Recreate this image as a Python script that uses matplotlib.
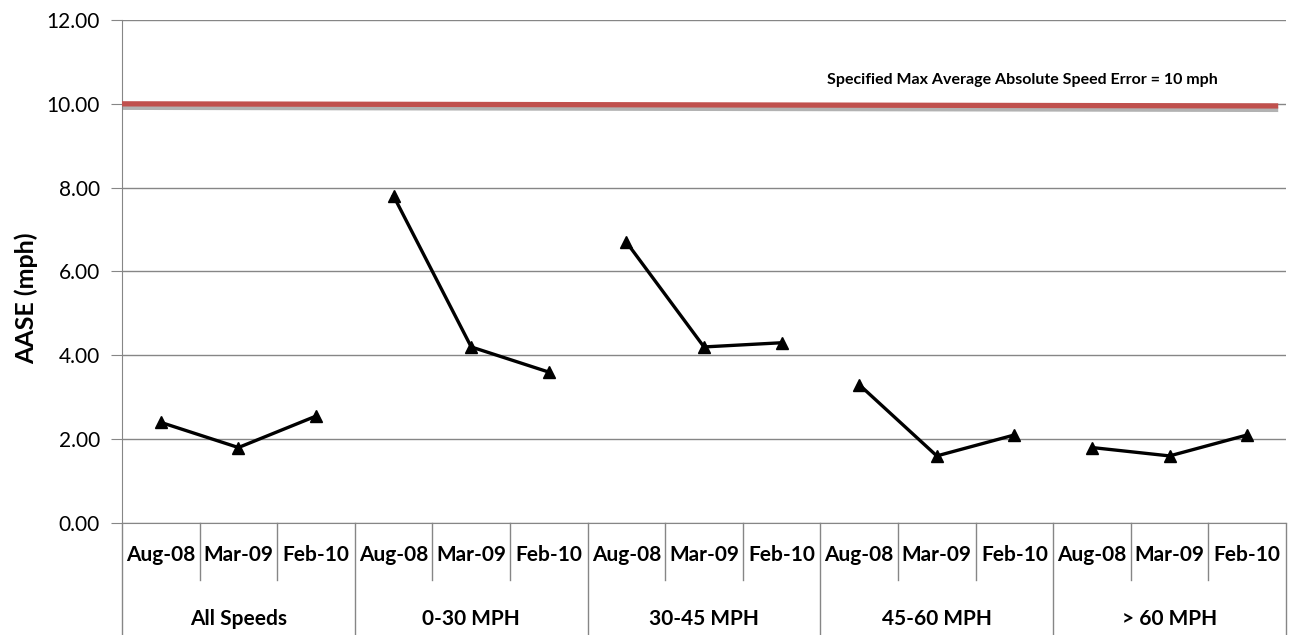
import numpy as np
import matplotlib
matplotlib.use("Agg")
import matplotlib.pyplot as plt
import matplotlib.patheffects as pe

plt.rcParams['font.family'] = ['Lato', 'DejaVu Sans']

# speed bins and survey months
groups = ["All Speeds", "0-30 MPH", "30-45 MPH", "45-60 MPH", "> 60 MPH"]
months = ["Aug-08", "Mar-09", "Feb-10"]

# average absolute speed error per bin (mph), one list per bin
all_speeds = [2.40, 1.80, 2.55]
mph_0_30 = [7.80, 4.20, 3.60]
mph_30_45 = [6.70, 4.20, 4.30]
mph_45_60 = [3.30, 1.60, 2.10]
mph_60_up = [1.80, 1.60, 2.10]
series = [all_speeds, mph_0_30, mph_30_45, mph_45_60, mph_60_up]

spec_limit = 10.0
spec_text = "Specified Max Average Absolute Speed Error = 10 mph"

grid_col = "#868686"

fig = plt.figure(figsize=(12.94, 6.35), dpi=100)
ax = fig.add_axes([0.0943, 0.1764, 0.8995, 0.7921])

n_m = len(months)
for gi, vals in enumerate(series):
    xs = np.arange(n_m) + gi * n_m
    ax.plot(xs, vals, color="black", lw=2.4, marker="^", ms=8, zorder=4)

# spec limit line with soft shadow
ax.plot([-0.5, 14.4], [spec_limit, spec_limit - 0.05], color="#C0504D", lw=3.8,
        solid_capstyle="butt", zorder=3,
        path_effects=[pe.SimpleLineShadow(offset=(0, -2.5), shadow_color="#7f7f7f", alpha=0.6),
                      pe.Normal()])
ax.text(11.1, 10.57, spec_text, ha="center", va="center", fontsize=11.5,
        fontweight="bold")

ax.set_xlim(-0.5, len(groups) * n_m - 0.5)
ax.set_ylim(0, 12)
ax.set_yticks(np.arange(0, 12.01, 2))
ax.set_yticklabels([f"{v:.2f}" for v in np.arange(0, 12.01, 2)], fontsize=15)
ax.yaxis.grid(True, color=grid_col, lw=1)
ax.set_axisbelow(True)
ax.tick_params(axis="y", length=8, color=grid_col, pad=8)
ax.set_xticks([])
for s in ["top", "right"]:
    ax.spines[s].set_visible(False)
for s in ["left", "bottom"]:
    ax.spines[s].set_color(grid_col)

ax.set_ylabel("AASE (mph)", fontsize=18, fontweight="bold")
ax.yaxis.set_label_coords(-0.072, 0.447)

# two-level category axis below the plot
tr = ax.get_xaxis_transform()
for i in range(len(groups) * n_m):
    ax.text(i, -0.064, months[i % n_m], transform=tr, ha="center", va="center",
            fontsize=15, fontweight="bold")
for gi, g in enumerate(groups):
    ax.text(gi * n_m + 1, -0.19, g, transform=tr, ha="center", va="center",
            fontsize=15, fontweight="bold")
for k in range(len(groups) * n_m + 1):
    x = k - 0.5
    y_end = -0.223 if k % n_m == 0 else -0.113
    ax.plot([x, x], [0, y_end], transform=tr, color=grid_col, lw=1, clip_on=False)

fig.savefig("out.png", dpi=100)
